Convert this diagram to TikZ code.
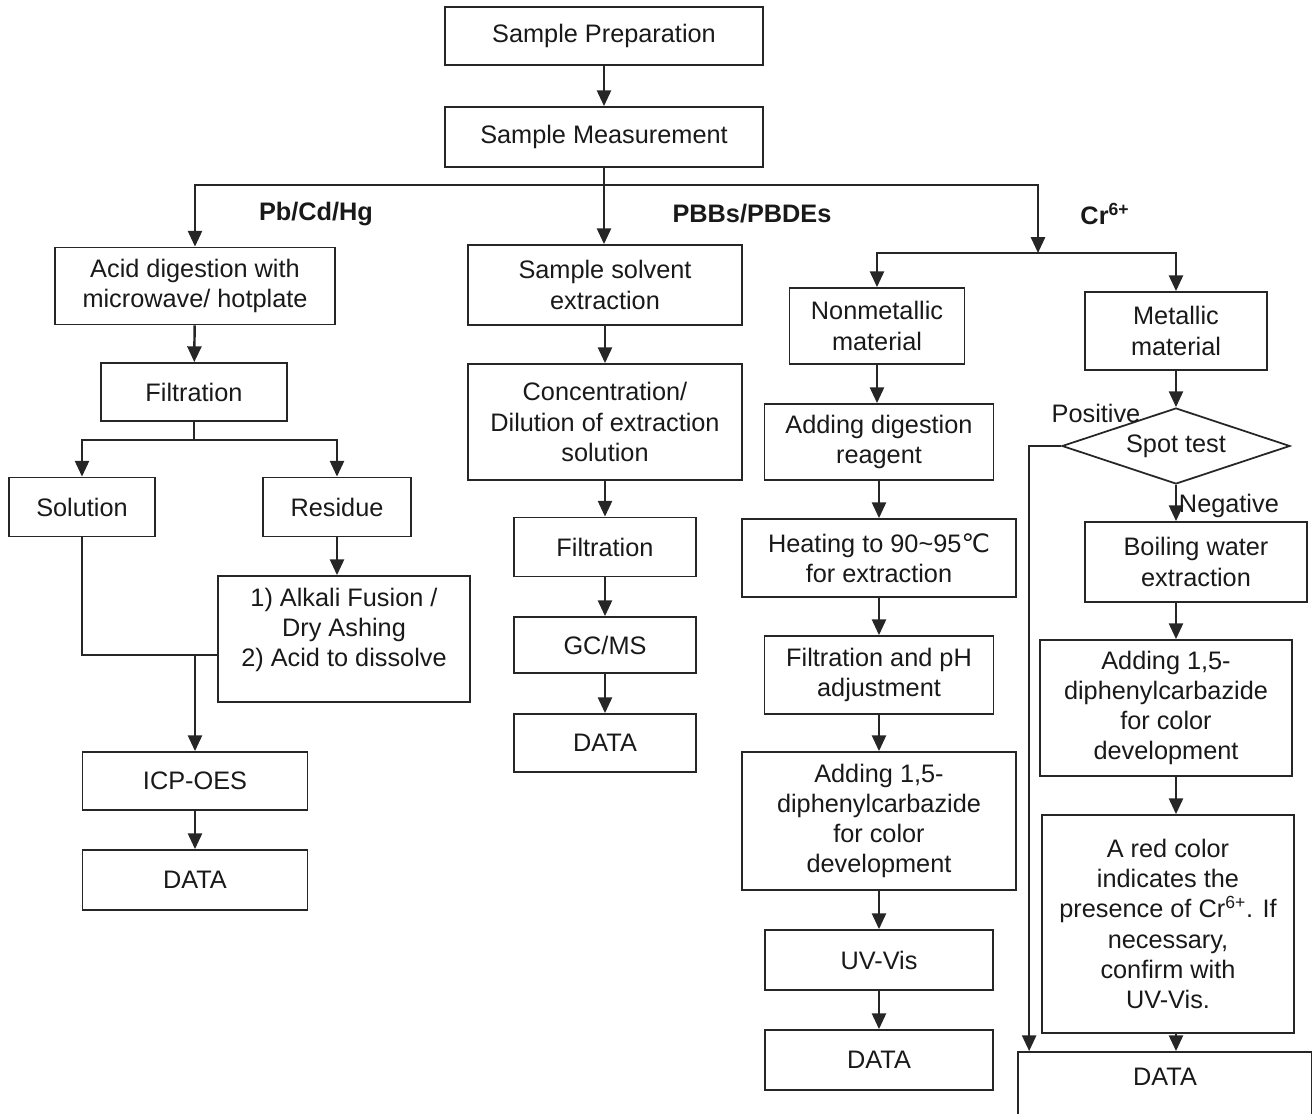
\documentclass[tikz,border=0pt]{standalone}
\usepackage{fontspec}
\setmainfont{Liberation Sans}
\newfontfamily\degfont{DejaVu Sans}
\usetikzlibrary{shapes.geometric, arrows.meta}

\begin{document}
\begin{tikzpicture}[x=0.02cm, y=-0.02cm,
    proc/.style={rectangle, draw=black!85, line width=1pt, align=center, inner sep=2pt,
        font=\fontsize{14.4}{17.2}\selectfont, text=black!90},
    flow/.style={line width=1.4pt, draw=black!85, -{Triangle[width=8pt,length=9pt]}},
    link/.style={line width=1.4pt, draw=black!85},
    tag/.style={font=\fontsize{14.4}{17.2}\selectfont\bfseries, text=black!90},
    note/.style={font=\fontsize{14.4}{17.2}\selectfont, text=black!90}]
    \useasboundingbox (0,0) rectangle (1312,1114);

    % Top
    \node (prep) [proc, minimum width=6.36cm, minimum height=1.16cm] at (604,36) {Sample Preparation};
    \node (meas) [proc, minimum width=6.36cm, minimum height=1.2cm] at (604,137) {Sample Measurement};

    % Pb/Cd/Hg branch
    \node (acid) [proc, minimum width=5.6cm, minimum height=1.54cm] at (195,286) {Acid digestion with\\microwave/ hotplate};
    \node (filta) [proc, minimum width=3.72cm, minimum height=1.16cm] at (194,392) {Filtration};
    \node (sol) [proc, minimum width=2.92cm, minimum height=1.18cm] at (82,507) {Solution};
    \node (res) [proc, minimum width=2.96cm, minimum height=1.18cm] at (337,507) {Residue};
    \node (alk) [proc, minimum width=5.04cm, minimum height=2.52cm] at (344,639) {1) Alkali Fusion /\\Dry Ashing\\2) Acid to dissolve\\[-4pt]\mbox{}};
    \node (icp) [proc, minimum width=4.5cm, minimum height=1.16cm] at (195,781) {ICP-OES};
    \node (dataa) [proc, minimum width=4.5cm, minimum height=1.2cm] at (195,880) {DATA};

    % PBBs/PBDEs branch
    \node (solv) [proc, minimum width=5.48cm, minimum height=1.6cm] at (605,285) {Sample solvent\\extraction};
    \node (conc) [proc, minimum width=5.48cm, minimum height=2.32cm] at (605,422) {Concentration/\\Dilution of extraction\\solution};
    \node (filtb) [proc, minimum width=3.64cm, minimum height=1.18cm] at (605,547) {Filtration};
    \node (gcms) [proc, minimum width=3.64cm, minimum height=1.12cm] at (605,645) {GC/MS};
    \node (datab) [proc, minimum width=3.64cm, minimum height=1.16cm] at (605,743) {DATA};

    % Cr6+ nonmetallic branch
    \node (nonmet) [proc, minimum width=3.5cm, minimum height=1.52cm] at (877,326) {Nonmetallic\\material};
    \node (adddig) [proc, minimum width=4.58cm, minimum height=1.52cm] at (879,442) {Adding digestion\\reagent};
    \node (heat) [proc, minimum width=5.48cm, minimum height=1.56cm] at (879,558) {Heating to 90\textasciitilde95{\degfont ℃}\\for extraction};
    \node (filtph) [proc, minimum width=4.58cm, minimum height=1.56cm] at (879,675) {Filtration and pH\\adjustment};
    \node (dpca) [proc, minimum width=5.48cm, minimum height=2.76cm] at (879,821) {Adding 1,5-\\diphenylcarbazide\\for color\\development};
    \node (uv) [proc, minimum width=4.56cm, minimum height=1.2cm] at (879,960) {UV-Vis};
    \node (datac) [proc, minimum width=4.56cm, minimum height=1.2cm] at (879,1060) {DATA};

    % Cr6+ metallic branch
    \node (met) [proc, minimum width=3.64cm, minimum height=1.56cm] at (1176,331) {Metallic\\material};
    \node (spot) [proc, diamond, aspect=3, inner sep=0pt, minimum width=4.56cm, minimum height=1.52cm] at (1176,446) {Spot test};
    \node (boil) [proc, minimum width=4.44cm, minimum height=1.6cm] at (1196,562) {Boiling water\\extraction};
    \node (dpcb) [proc, minimum width=5.04cm, minimum height=2.72cm] at (1166,708) {Adding 1,5-\\diphenylcarbazide\\for color\\development};
    \node (red) [proc, minimum width=5.04cm, minimum height=4.36cm] at (1168,924) {A red color\\indicates the\\presence of Cr\textsuperscript{6+}. If\\necessary,\\confirm with\\UV-Vis.};
    \node (datad) [proc, minimum width=5.88cm, minimum height=1.6cm] at (1165,1092) {DATA\\\mbox{}};

    % Labels
    \node (lpb) [tag] at (316,214) {Pb/Cd/Hg};
    \node (lpbb) [tag] at (752,214) {PBBs/PBDEs};
    \node (lcr) [tag] at (1105,214) {Cr\textsuperscript{6+}};
    \node (lpos) [note] at (1096,413) {Positive};

    % Flows
    \coordinate (split) at (604,185);
    \coordinate (crsplit) at (1038,253);
    \coordinate (pbsplit) at (194,440);
    \coordinate (join) at (195,655);
    \draw[flow] (prep) -- (meas);
    \draw[link] (meas) -- (split);
    \draw[flow] (split) -| (acid.north);
    \draw[flow] (split) -- (split |- solv.north);
    \draw[flow] (split) -| (crsplit);
    \draw[flow] (crsplit) -| (nonmet.north);
    \draw[flow] (crsplit) -| (met.north);

    \draw[flow] (acid) -- (filta);
    \draw[link] (filta) -- (pbsplit);
    \draw[flow] (pbsplit) -| (sol.north);
    \draw[flow] (pbsplit) -| (res.north);
    \draw[flow] (res.south) -- (res.south |- alk.north);
    \draw[link] (sol.south) |- (join) -- (join -| alk.west);
    \draw[flow] (join) -- (icp.north);
    \draw[flow] (icp) -- (dataa);

    \draw[flow] (solv) -- (conc);
    \draw[flow] (conc) -- (filtb);
    \draw[flow] (filtb) -- (gcms);
    \draw[flow] (gcms) -- (datab);

    \draw[flow] (nonmet.south) -- (nonmet.south |- adddig.north);
    \draw[flow] (adddig) -- (heat);
    \draw[flow] (heat) -- (filtph);
    \draw[flow] (filtph) -- (dpca);
    \draw[flow] (dpca) -- (uv);
    \draw[flow] (uv) -- (datac);

    \draw[flow] (met) -- (spot);
    \draw[flow] (spot.south) -- (spot.south |- boil.north) node[note, anchor=south west, inner sep=1pt] {Negative};
    \draw[flow] (boil.south -| met) -- (dpcb.north -| met);
    \draw[flow] (dpcb.south -| met) -- (red.north -| met);
    \draw[flow] (red.south -| met) -- (datad.north -| met);
    \draw[flow] (spot.west) -| ([xshift=0.24cm]datad.north west);

\end{tikzpicture}
\end{document}
